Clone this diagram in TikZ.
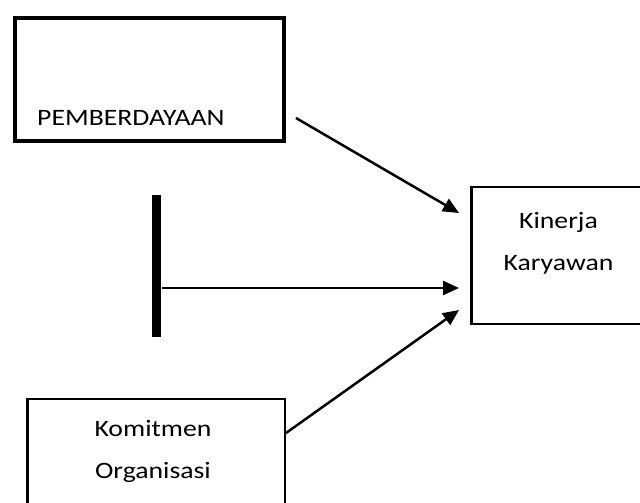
\documentclass[tikz,border=0pt]{standalone}
\usepackage{fontspec}
\setmainfont[FakeStretch=1.18]{Carlito}
\usetikzlibrary{arrows.meta}

\tikzset{
  var_box/.style={rectangle, draw, outer sep=0pt, inner sep=0pt},
  var_txt/.style={font=\fontsize{23.5}{42}\selectfont, align=center, inner sep=0pt},
  mod_bar/.style={rectangle, fill=black, outer sep=0pt, inner sep=0pt,
    minimum width=9pt, minimum height=142pt},
}

\begin{document}
\begin{tikzpicture}[
  x=1pt, y=-1pt,
  path_arrow/.style={line width=2.5pt, -{Triangle[length=16pt,width=14pt]}},
  ]
  \useasboundingbox (0,0) rectangle (640,503);
  \clip (0,0) rectangle (640,503);

  \node[var_box, line width=4pt, minimum width=269pt, minimum height=122.5pt] (pemb) at (149,79.25) {};
  \node[var_txt, anchor=base west] (pemb_txt) at (37,125) {PEMBERDAYAAN};

  \node[mod_bar] (bar) at (156.5,266) {};

  \node[var_box, line width=2.5pt, minimum width=257.5pt, minimum height=121pt] (komit) at (156.25,459.5) {};
  \node[var_txt, anchor=base] (komit_txt) at (153,478) {Komitmen\\Organisasi};

  \node[var_box, line width=2.5pt, minimum width=173pt, minimum height=137pt] (kin) at (558,255.5) {};
  \node[var_txt, anchor=base] (kin_txt) at (558.5,270) {Kinerja\\Karyawan};

  \draw[path_arrow] ([xshift=12.5pt,yshift=-38.75pt]pemb.east) -- ([xshift=-12.5pt,yshift=42.5pt]kin.west);
  \draw[path_arrow] ([xshift=1pt,yshift=-22pt]bar.east) -- ([xshift=-12.5pt,yshift=-32.5pt]kin.west);
  \draw[path_arrow] ([xshift=1pt,yshift=26.5pt]komit.east) -- ([xshift=-12.5pt,yshift=-54.5pt]kin.west);

\end{tikzpicture}
\end{document}
